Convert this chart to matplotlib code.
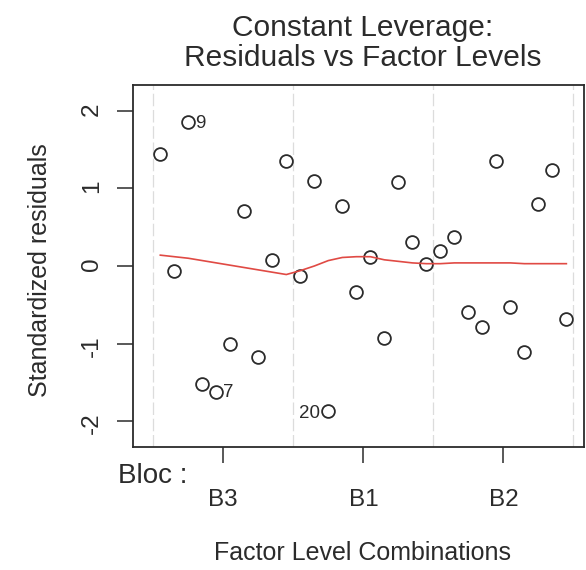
import matplotlib
matplotlib.use("Agg")
import matplotlib.pyplot as plt

plt.rcParams["font.family"] = ["Liberation Sans", "DejaVu Sans"]

# standardized residuals, in plotting order (factor level combinations 0..29)
obs_pos = list(range(30))
resid = [1.44, -0.06, 1.86, -1.52, -1.62, -1.01, 0.71, -1.18, 0.08, 1.35,
         -0.13, 1.10, -1.87, 0.77, -0.34, 0.12, -0.93, 1.08, 0.31, 0.03,
         0.19, 0.38, -0.59, -0.79, 1.35, -0.53, -1.11, 0.80, 1.24, -0.69]
# red smoother
smooth = [0.14, 0.12, 0.10, 0.07, 0.04, 0.01, -0.02, -0.05, -0.08, -0.11,
          -0.06, 0.00, 0.07, 0.11, 0.12, 0.12, 0.08, 0.06, 0.04, 0.03,
          0.03, 0.04, 0.04, 0.04, 0.04, 0.04, 0.03, 0.03, 0.03, 0.03]
levels = ["B3", "B1", "B2"]
level_centers = [4.5, 14.5, 24.5]
level_bounds = [-0.5, 9.5, 19.5, 29.5]
# labelled observations: (position, label, side)
flagged = [(2, "9", "right"), (4, "7", "right"), (12, "20", "left")]

ink = "#2b2b2b"
fig = plt.figure(figsize=(5.86, 5.70), dpi=100)
ax = fig.add_axes([133/586, 1-447/570, 451/586, 362/570])

for b in level_bounds:
    ax.axvline(b, color="#dcdcdc", lw=0.9, ls=(0, (10, 3)), zorder=0)

ax.plot(obs_pos, resid, "o", mfc="none", mec=ink, ms=9.2, mew=1.3)
ax.plot(obs_pos, smooth, color="#e04a44", lw=1.2)

for i, lab, side in flagged:
    if side == "right":
        ax.annotate(lab, (obs_pos[i], resid[i]), xytext=(5, -1), textcoords="offset points",
                    ha="left", va="center", fontsize=13.5, color=ink)
    else:
        ax.annotate(lab, (obs_pos[i], resid[i]), xytext=(-6, -2), textcoords="offset points",
                    ha="right", va="center", fontsize=13.5, color=ink)

ax.set_xlim(-1.95, 30.26)
ax.set_ylim(-2.335, 2.335)
ax.set_yticks([-2, -1, 0, 1, 2])
ax.set_yticklabels(["-2", "-1", "0", "1", "2"])
ax.set_xticks(level_centers)
ax.set_xticklabels(levels)
ax.tick_params(axis="y", labelrotation=90, length=11.5, width=1.1, pad=10, labelsize=17.5, colors=ink)
ax.tick_params(axis="x", length=11.5, width=1.1, pad=19, labelsize=17.5, colors=ink)
for s in ax.spines.values():
    s.set_color(ink)
    s.set_linewidth(1.3)

fig.text(363/586, 1-36/570, "Constant Leverage:", ha="center", va="baseline", fontsize=21.5, color=ink)
fig.text(363/586, 1-66/570, "Residuals vs Factor Levels", ha="center", va="baseline", fontsize=21.5, color=ink)
fig.text(40/586, 1-270/570, "Standardized residuals", rotation=90, ha="center", va="center",
         fontsize=18, color=ink)
fig.text(118/586, 1-483/570, "Bloc :", ha="left", va="baseline", fontsize=20, color=ink)
fig.text(363/586, 1-560/570, "Factor Level Combinations", ha="center", va="baseline",
         fontsize=18, color=ink)

fig.savefig("out.png", dpi=100, facecolor="white")
